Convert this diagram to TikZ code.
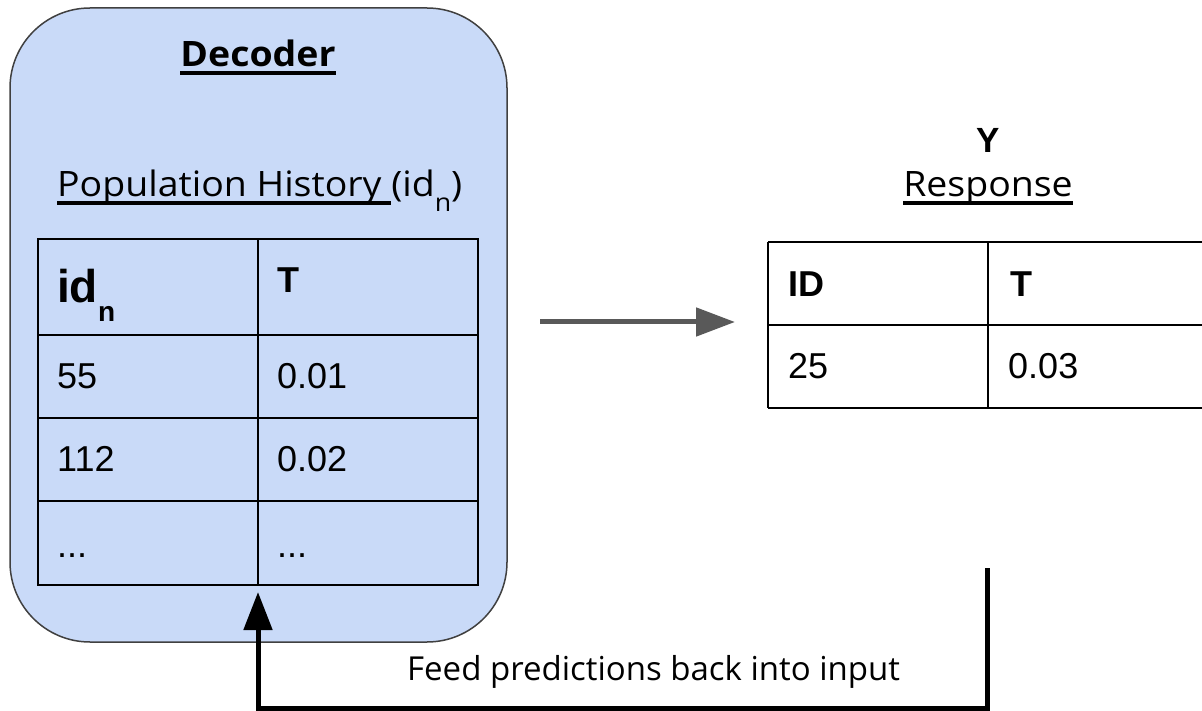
\documentclass[tikz,border=0pt]{standalone}
\usepackage{fontspec}
\setmainfont{Open Sans}
\newfontfamily\titlefont[FakeStretch=1.07]{Open Sans}
\newfontfamily\arial{Liberation Sans}
\usetikzlibrary{arrows.meta}
\definecolor{decfill}{HTML}{C9DAF8}
\definecolor{decline}{HTML}{404040}
\definecolor{flowgray}{HTML}{595959}
% underline drawn as a thick rule under the whole box
\newcommand\uln[1]{\setbox0\hbox{#1}\rlap{\rule[-8.5pt]{\wd0}{4pt}}\box0}
\newcommand\fsz[1]{\fontsize{#1}{#1}\selectfont}
\begin{document}
\begin{tikzpicture}[x=1pt,y=-1pt,
  txt/.style={inner sep=0pt, anchor=base west},
  cell/.style={txt, font=\arial\fsz{36}},
  headcell/.style={txt, font=\arial\bfseries\fsz{36}},
  grid/.style={line width=2pt, draw=black},
  flow/.style={line width=5pt},
]
\useasboundingbox (0,0) rectangle (1202,711);

% decoder container
\draw[fill=decfill, draw=decline, line width=1.5pt, rounded corners=80pt]
  (10,8) rectangle (507,642);
\node[inner sep=0pt, anchor=base] (dectitle) at (258,67) {\titlefont\fsz{35}\bfseries\uln{Decoder}};
\node[txt] (histtitle) at (57,197)
  {\titlefont\fsz{35}\uln{Population History }(id\raisebox{-15pt}{\fsz{25}n})};

% population history table
\draw[grid] (38,239) rectangle (478,585);
\draw[grid] (258,239) -- (258,585);
\draw[grid] (38,335) -- (478,335);
\draw[grid] (38,418) -- (478,418);
\draw[grid] (38,501) -- (478,501);
\node[txt, font=\arial\bfseries\fsz{46}] (hid) at (57,303) {id\raisebox{-18pt}{\fsz{28}n}};
\node[headcell] (hT) at (277,293) {T};
\node[cell] (r1a) at (57,388) {55};
\node[cell] (r1b) at (277,388) {0.01};
\node[cell] (r2a) at (57,471) {112};
\node[cell] (r2b) at (277,471) {0.02};
\node[cell] (r3a) at (57,557) {...};
\node[cell] (r3b) at (277,557) {...};

% response table
\node[inner sep=0pt, anchor=base, font=\arial\bfseries\fsz{35}] (ylabel) at (988,153) {Y};
\node[inner sep=0pt, anchor=base] (resp) at (988,197) {\titlefont\fsz{35}\uln{Response}};
\draw[grid] (768,242) -- (1212,242);
\draw[grid] (768,325) -- (1212,325);
\draw[grid] (768,408) -- (1212,408);
\draw[grid] (768,242) -- (768,408);
\draw[grid] (988,242) -- (988,408);
\node[headcell] (oID) at (788,297) {ID};
\node[headcell] (oT) at (1010,297) {T};
\node[cell] (oa) at (788,378) {25};
\node[cell] (ob) at (1008,378) {0.03};

% forward arrow
\coordinate (fwdStart) at (540,322);
\coordinate (fwdEnd) at (735,322);
\draw[flow, draw=flowgray, -{Triangle[length=39pt,width=28pt]}] (fwdStart) -- (fwdEnd);

% feedback loop
\coordinate (fbTop) at (987,568);
\coordinate (fbR) at (987,708);
\coordinate (fbL) at (258,708);
\coordinate (fbIn) at (258,592);
\draw[flow, -{Triangle[length=38pt,width=28pt]}] (fbTop) -- (fbR) -- (fbL) -- (fbIn);
\node[txt] (fblabel) at (407,680) {\fsz{33}Feed predictions back into input};
\end{tikzpicture}
\end{document}
